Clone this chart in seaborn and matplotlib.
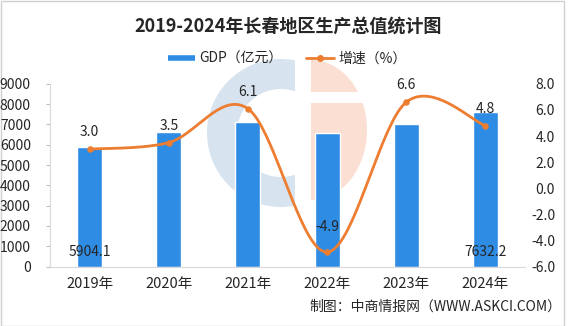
import numpy as np
import pandas as pd
import matplotlib
matplotlib.use("Agg")
import matplotlib.pyplot as plt
from matplotlib.patches import Wedge, Ellipse, Rectangle
from matplotlib.lines import Line2D
import seaborn as sns

# ---- data ----
years = ["2019年", "2020年", "2021年", "2022年", "2023年", "2024年"]
gdp = [5904.1, 6638.0, 7103.1, 6570.0, 7002.1, 7632.2]      # 亿元
growth = [3.0, 3.5, 6.1, -4.9, 6.6, 4.8]                    # %
gdp_labelled = ["2019年", "2024年"]

BLUE = "#2F8CE4"
ORANGE = "#ED7D31"
TEXT = "#262626"
GRID = "#D9D9D9"

sns.set_theme(style="white")
plt.rcParams["font.family"] = ["Noto Sans CJK SC", "DejaVu Sans"]
plt.rcParams["axes.unicode_minus"] = False

W, H = 575, 326
fig = plt.figure(figsize=(W / 100, H / 100), dpi=100)
fig.patch.set_facecolor("white")
px = fig.dpi_scale_trans  # inches


def P(x, y):
    """pixel (top-left origin) -> inches for dpi_scale_trans"""
    return (x / 100, (H - y) / 100)


# ---- background logo ----
ring = Wedge(P(281, 133), 0.74, 0, 360, width=0.30, transform=px,
             facecolor="#D7E4EF", edgecolor="none", zorder=-5)
clip_c = Rectangle(P(0, 330), 2.95, 3.3, transform=px)
ring.set_clip_path(clip_c)
fig.add_artist(ring)
for y0, y1 in [(58, 92), (103, 210)]:
    e = Ellipse(P(311, 130), 1.12, 1.40, transform=px,
                facecolor="#FADFD2", edgecolor="none", zorder=-5)
    clip = Rectangle(P(311, y1), 1.0, (y1 - y0) / 100, transform=px)
    e.set_clip_path(clip)
    fig.add_artist(e)

# frame around the figure
fig.add_artist(Rectangle((0.005, 0.005), 5.63, 3.25, transform=px,
                         fill=False, edgecolor="#D0D0D0", lw=1.0, zorder=-4))

# ---- axes ----
ax = fig.add_axes([50 / W, 59.5 / H, 475 / W, 182.6 / H])
ax.patch.set_visible(False)
df = pd.DataFrame({"year": years, "gdp": gdp, "growth": growth})

sns.barplot(data=df, x="year", y="gdp", color=BLUE, width=0.315,
            saturation=1, ax=ax, zorder=2)
ax.set_xlim(-0.5, len(years) - 0.5)
ax.set_ylim(0, 9000)
ax.set_yticks(np.arange(0, 9001, 1000))
ax.set_yticklabels([f"{int(v)}" for v in np.arange(0, 9001, 1000)])
ax.set_xlabel("")
ax.set_ylabel("")
for s in ["top", "right"]:
    ax.spines[s].set_visible(False)
for s in ["left", "bottom"]:
    ax.spines[s].set_color(GRID)
    ax.spines[s].set_linewidth(0.8)
ax.tick_params(axis="y", length=3, width=0.8, color="#BFBFBF", pad=10.8,
               labelsize=10, labelcolor=TEXT, left=True)
ax.tick_params(axis="x", length=0, pad=7.5, labelsize=10.5, labelcolor=TEXT)

for i, (yr, v) in enumerate(zip(years, gdp)):
    if yr in gdp_labelled:
        ax.annotate(f"{v:.1f}", xy=(i, 0), xytext=(0, 10.4),
                    textcoords="offset points", ha="center", va="center",
                    fontsize=10, color=TEXT, zorder=5)

# ---- growth line (smoothed through the data points) ----
ax2 = ax.twinx()
ax2.patch.set_visible(False)
for s in ax2.spines.values():
    s.set_visible(False)
ax2.grid(False)
ax.grid(False)
ax2.set_ylim(-6, 8)
rt = np.arange(-6, 8.01, 2)
ax2.set_yticks(rt)
ax2.set_yticklabels([f"{v:.1f}" for v in rt])
ax2.tick_params(axis="y", length=0, pad=21.6, labelsize=10, labelcolor=TEXT)
for lab in ax2.get_yticklabels():
    lab.set_horizontalalignment("right")

xp = np.arange(len(growth), dtype=float)
yp = np.array(growth, dtype=float)


def smooth(x, y, n=40):
    pts = np.column_stack([x, y])
    ext = np.vstack([pts[0], pts, pts[-1]])
    out = []
    for i in range(len(pts) - 1):
        p0, p1, p2, p3 = ext[i], ext[i + 1], ext[i + 2], ext[i + 3]
        t = np.linspace(0, 1, n)[:, None]
        c = 0.5 * ((2 * p1) + (-p0 + p2) * t + (2 * p0 - 5 * p1 + 4 * p2 - p3) * t ** 2
                   + (-p0 + 3 * p1 - 3 * p2 + p3) * t ** 3)
        out.append(c if i == 0 else c[1:])
    c = np.vstack(out)
    return c[:, 0], c[:, 1]


sx, sy = smooth(xp, yp)
ax2.plot(sx, sy, color=ORANGE, lw=2.0, zorder=3, solid_capstyle="round")
sns.scatterplot(x=xp, y=yp, ax=ax2, color=ORANGE, s=22, edgecolor=ORANGE,
                linewidth=0, zorder=4, legend=False)

for i, v in enumerate(growth):
    off = 18 if v < 0 else 12.2
    ax2.annotate(f"{v:.1f}", xy=(i, v), xytext=(0, off),
                 textcoords="offset points", ha="center", va="center",
                 fontsize=10, color=TEXT, zorder=5)

# ---- title, legend, source ----
fig.text(288 / W, 1 - 25.7 / H, "2019-2024年长春地区生产总值统计图",
         ha="center", va="center", fontsize=13, fontweight="bold", color=TEXT)

handles = [
    Line2D([0], [0], color=BLUE, lw=4, solid_capstyle="butt"),
    Line2D([0], [0], color=ORANGE, lw=2, marker="o", markersize=4),
]
fig.legend(handles, ["GDP（亿元）", "增速（%）"], loc="center",
           bbox_to_anchor=(287 / W, 1 - 58.7 / H), ncol=2, frameon=False,
           fontsize=10, handlelength=2.0, handletextpad=0.3,
           columnspacing=1.7, labelcolor=TEXT)

fig.text(561 / W, 1 - 306.7 / H, "制图：中商情报网（WWW.ASKCI.COM）",
         ha="right", va="center", fontsize=10, color=TEXT)

fig.savefig("out.png", dpi=100, facecolor="white")
